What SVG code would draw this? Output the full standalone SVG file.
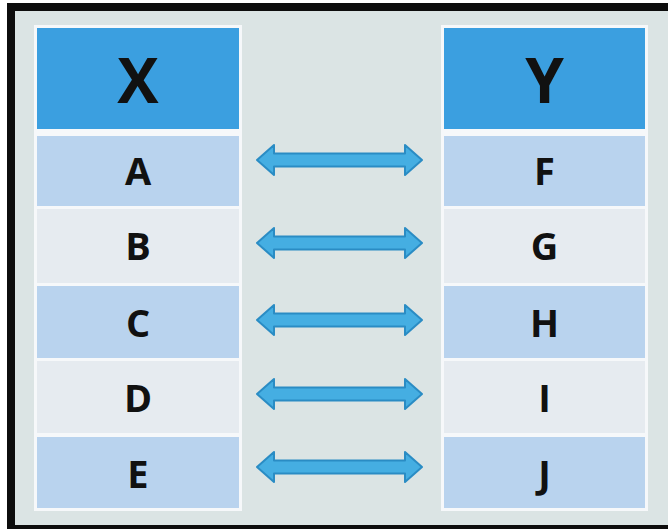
<svg xmlns="http://www.w3.org/2000/svg" xmlns:xlink="http://www.w3.org/1999/xlink" width="668" height="529" viewBox="0 0 668 529">
  <style>
    .frame { fill: #0d0d0d; }
    .panel { fill: #dbe4e4; }
    .col { fill: #f6f8fa; }
    .head { fill: #3b9fe0; }
    .dark { fill: #b9d3ee; }
    .light { fill: #e6ebf0; }
    .title { font-family: "Open Sans", "Liberation Sans", sans-serif; font-weight: 700; font-size: 62px; fill: #111; text-anchor: middle; }
    .lbl { font-family: "Open Sans", "Liberation Sans", sans-serif; font-weight: 700; font-size: 38px; fill: #111; text-anchor: middle; }
    .arrow { fill: #45aee2; stroke: #2a8cc4; stroke-width: 2; stroke-linejoin: round; }
  </style>
  <defs>
    <!-- double-headed arrow centred on y = 0 -->
    <path id="dbl" class="arrow" d="M257,0 L274,-15 L274,-6.5 L405,-6.5 L405,-15 L422,0 L405,15 L405,6.5 L274,6.5 L274,15 Z"/>
  </defs>

  <rect width="668" height="529" fill="#ffffff"/>
  <rect class="frame" x="7" y="3" width="661" height="526"/>
  <rect class="panel" x="15" y="11" width="653" height="514"/>

  <!-- column backings -->
  <rect class="col" x="34" y="25" width="208" height="486"/>
  <rect class="col" x="441" y="25" width="207" height="486"/>

  <!-- left column -->
  <g id="x-head"><rect class="head" x="37" y="28" width="202" height="101"/><text class="title" x="138" y="103">X</text></g>
  <g id="a"><rect class="dark" x="37" y="136" width="202" height="70"/><text class="lbl" x="138" y="185">A</text></g>
  <g id="b"><rect class="light" x="37" y="209" width="202" height="74"/><text class="lbl" x="138" y="260">B</text></g>
  <g id="c"><rect class="dark" x="37" y="286" width="202" height="72"/><text class="lbl" x="138" y="337">C</text></g>
  <g id="d"><rect class="light" x="37" y="361" width="202" height="72"/><text class="lbl" x="138" y="412">D</text></g>
  <g id="e"><rect class="dark" x="37" y="437" width="202" height="71"/><text class="lbl" x="138" y="488">E</text></g>

  <!-- right column -->
  <g id="y-head"><rect class="head" x="444" y="28" width="201" height="101"/><text class="title" x="544.5" y="103">Y</text></g>
  <g id="f"><rect class="dark" x="444" y="136" width="201" height="70"/><text class="lbl" x="544.5" y="185">F</text></g>
  <g id="g"><rect class="light" x="444" y="209" width="201" height="74"/><text class="lbl" x="544.5" y="260">G</text></g>
  <g id="h"><rect class="dark" x="444" y="286" width="201" height="72"/><text class="lbl" x="544.5" y="337">H</text></g>
  <g id="i"><rect class="light" x="444" y="361" width="201" height="72"/><text class="lbl" x="544.5" y="412">I</text></g>
  <g id="j"><rect class="dark" x="444" y="437" width="201" height="71"/><text class="lbl" x="544.5" y="488">J</text></g>

  <!-- connectors -->
  <g id="connectors">
    <use xlink:href="#dbl" href="#dbl" transform="translate(0,160)"/>
    <use xlink:href="#dbl" href="#dbl" transform="translate(0,243)"/>
    <use xlink:href="#dbl" href="#dbl" transform="translate(0,320)"/>
    <use xlink:href="#dbl" href="#dbl" transform="translate(0,394)"/>
    <use xlink:href="#dbl" href="#dbl" transform="translate(0,467)"/>
  </g>
</svg>
